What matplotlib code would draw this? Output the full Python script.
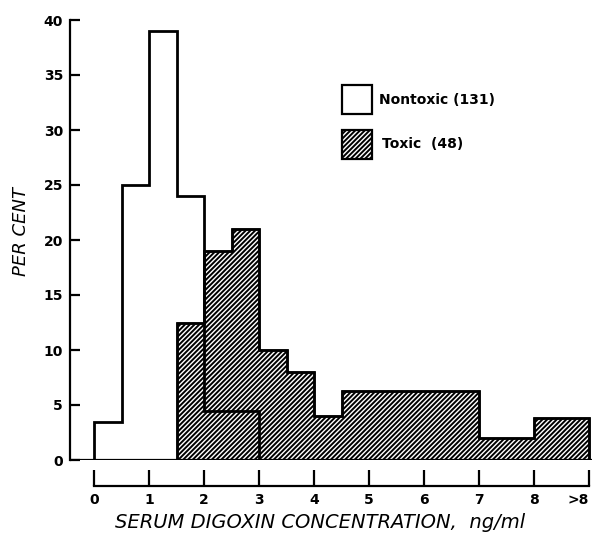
import matplotlib
matplotlib.use('Agg')
import matplotlib.pyplot as plt
from matplotlib.patches import Rectangle

# histogram bins (ng/ml), last bin is ">8"
nontoxic_edges = [0, 0.5, 1, 1.5, 2, 2.5, 3]
nontoxic_pct = [3.5, 25, 39, 24, 4.5, 4.5]

toxic_edges = [1.5, 2, 2.5, 3, 3.5, 4, 4.5, 5, 5.5, 6, 6.5, 7, 7.5, 8, 9]
toxic_pct = [12.5, 19, 21, 10, 8, 4, 6.3, 6.3, 6.3, 6.3, 6.3, 2, 2, 3.8]

x_ticks = [0, 1, 2, 3, 4, 5, 6, 7, 8, 9]
x_labels = ['0', '1', '2', '3', '4', '5', '6', '7', '8', '>8']
y_ticks = [0, 5, 10, 15, 20, 25, 30, 35, 40]

legend_labels = ['Nontoxic (131)', 'Toxic  (48)']

plt.rcParams['hatch.linewidth'] = 1.4

W, H = 593, 541
fig = plt.figure(figsize=(W / 100, H / 100), dpi=100)
ax = fig.add_axes([70 / W, 1 - 460 / H, 522 / W, 440 / H])

ax.stairs(toxic_pct, toxic_edges, baseline=0, fill=True, facecolor='white',
          edgecolor='black', hatch='///////', linewidth=1.8, zorder=2)
ax.stairs(toxic_pct, toxic_edges, baseline=0, fill=False,
          edgecolor='black', linewidth=1.8, zorder=3)
ax.stairs(nontoxic_pct, nontoxic_edges, baseline=0, fill=False,
          edgecolor='black', linewidth=2.0, zorder=4)
ax.axhline(0, color='black', linewidth=1.6, zorder=5)

ax.set_xlim(-0.44, 9.05)
ax.set_ylim(0, 40)

for s in ['top', 'right']:
    ax.spines[s].set_visible(False)
ax.spines['left'].set_bounds(0, 40)
ax.spines['left'].set_linewidth(1.6)
ax.spines['bottom'].set_position(('outward', 18.7))
ax.spines['bottom'].set_bounds(0, 9)
ax.spines['bottom'].set_linewidth(1.6)

ax.set_yticks(y_ticks)
ax.set_yticklabels([str(v) for v in y_ticks], fontweight='bold', fontsize=10)
ax.set_xticks(x_ticks)
ax.set_xticklabels(x_labels, fontweight='bold', fontsize=10)
ax.get_xticklabels()[-1].set_horizontalalignment('right')
ax.tick_params(axis='y', direction='in', length=7.2, width=1.6, pad=5)
ax.tick_params(axis='x', direction='in', length=11.5, width=1.6, pad=5)

ax.set_ylabel('PER CENT', fontstyle='italic', fontsize=13)
ax.yaxis.set_label_coords((30 - 70) / 522, (460 - 231) / 440)
ax.set_xlabel('SERUM DIGOXIN CONCENTRATION,  ng/ml', fontstyle='italic',
              fontsize=14)
ax.xaxis.set_label_coords((320 - 70) / 522, (460 - 513) / 440)

# legend drawn by hand
boxes = [(342, 85), (342, 130)]
text_pos = [(379, 100), (382, 144)]
hatches = [None, '///////']
for (bx, by), (tx, ty), h, lab in zip(boxes, text_pos, hatches, legend_labels):
    fig.add_artist(Rectangle((bx / W, 1 - (by + 29) / H), 30 / W, 29 / H,
                             transform=fig.transFigure, facecolor='white',
                             edgecolor='black', linewidth=1.6, hatch=h))
    fig.text(tx / W, 1 - ty / H, lab, ha='left', va='center',
             fontweight='bold', fontsize=10)

fig.savefig('out.png', dpi=100)
